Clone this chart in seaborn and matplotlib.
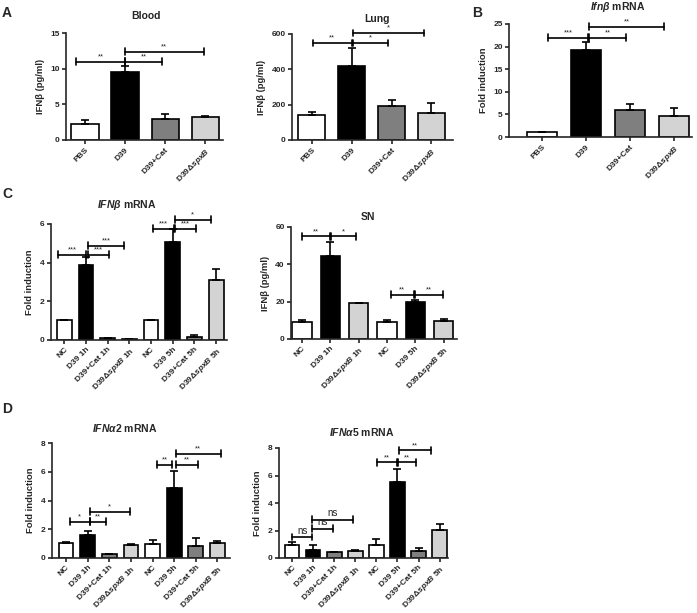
import numpy as np
import pandas as pd
import seaborn as sns
import matplotlib.pyplot as plt

# ---------------------------------------------------------------------------
# data
# ---------------------------------------------------------------------------
four_labels = ['PBS', 'D39', 'D39+Cat', r'D39$\Delta\mathit{spxB}$']
time_labels = ['NC', 'D39 1h', 'D39+Cat 1h', r'D39$\Delta\mathit{spxB}$ 1h',
               'NC', 'D39 5h', 'D39+Cat 5h', r'D39$\Delta\mathit{spxB}$ 5h']
sn_labels = ['NC', 'D39 1h', r'D39$\Delta\mathit{spxB}$ 1h',
             'NC', 'D39 5h', r'D39$\Delta\mathit{spxB}$ 5h']

blood_means = [2.2, 9.5, 2.9, 3.2]
blood_tops = [2.8, 10.4, 3.7, 3.4]
blood_sig = [(-0.21, 1.0, 11.0, '**'), (1.0, 1.93, 11.0, '**'), (1.0, 2.96, 12.4, '**')]

lung_means = [140, 420, 193, 155]
lung_tops = [157, 521, 227, 210]
lung_sig = [(0.02, 1.0, 549, '**'), (1.04, 1.9, 549, '*'), (1.04, 2.81, 606, '*')]

ifnb_means = [1.0, 19.3, 6.0, 4.7]
ifnb_tops = [1.1, 21.1, 7.3, 6.5]
ifnb_sig = [(0.13, 1.05, 22.0, '***'), (1.07, 1.9, 22.0, '**'), (1.07, 2.76, 24.4, '**')]

c_mrna_means = [1.02, 3.86, 0.10, 0.04, 1.02, 5.07, 0.14, 3.1]
c_mrna_tops = [1.05, 4.29, 0.12, 0.05, 1.05, 5.75, 0.26, 3.65]
c_mrna_sig = [(-0.29, 1.0, 4.41, '***'), (1.09, 2.05, 4.41, '***'), (1.09, 2.75, 4.88, '***'),
              (4.08, 5.05, 5.76, '***'), (5.09, 6.05, 5.76, '***'), (5.09, 6.74, 6.21, '*')]

sn_means = [9.2, 44.5, 19.2, 9.2, 19.8, 9.7]
sn_tops = [10.3, 52.1, 19.5, 10.3, 20.8, 10.5]
sn_sig = [(0.0, 0.98, 55.0, '**'), (1.02, 1.92, 55.0, '*'),
          (3.14, 3.94, 23.8, '**'), (3.97, 4.96, 23.8, '**')]

a2_means = [1.05, 1.6, 0.25, 0.9, 1.0, 4.9, 0.85, 1.05]
a2_tops = [1.12, 1.85, 0.3, 1.0, 1.25, 6.04, 1.4, 1.2]
a2_sig = [(0.17, 1.09, 2.53, '*'), (1.09, 1.86, 2.53, '**'), (1.09, 2.94, 3.22, '*'),
          (4.2, 4.92, 6.5, '**'), (5.08, 6.08, 6.5, '**'), (5.08, 7.15, 7.26, '**')]

a5_means = [0.97, 0.6, 0.41, 0.5, 0.95, 5.53, 0.48, 2.06]
a5_tops = [1.2, 0.95, 0.46, 0.56, 1.36, 6.5, 0.73, 2.5]
a5_sig = [(0.0, 0.95, 1.53, 'ns'), (0.95, 1.95, 2.13, 'ns'), (0.95, 2.9, 2.79, 'ns'),
          (4.02, 4.97, 6.96, '**'), (5.02, 5.87, 6.96, '**'), (5.05, 6.6, 7.83, '**')]

WH, BK, DG, LG = 'white', 'black', '#7f7f7f', '#d3d3d3'
four_colors = [WH, BK, DG, LG]
time_colors = [WH, BK, DG, LG, WH, BK, DG, LG]
sn_colors = [WH, BK, LG, WH, BK, LG]

# ---------------------------------------------------------------------------
sns.set_style('ticks')
plt.rcParams['font.family'] = ['Liberation Sans', 'DejaVu Sans']
plt.rcParams['font.weight'] = 'bold'
plt.rcParams['mathtext.fontset'] = 'custom'
plt.rcParams['mathtext.rm'] = 'Liberation Sans:bold'
plt.rcParams['mathtext.it'] = 'Liberation Sans:italic:bold'
plt.rcParams['mathtext.bf'] = 'Liberation Sans:bold'

W, H = 697, 613
fig = plt.figure(figsize=(W / 100, H / 100), dpi=100)


def px_rect(l, t, r, b):
    return [l / W, 1 - b / H, (r - l) / W, (b - t) / H]


def panel(rect, labels, means, tops, colors, sig, ylim, yticks, xlim, ylabel):
    ax = fig.add_axes(px_rect(*rect))
    keys = [str(i) for i in range(len(means))]
    df = pd.DataFrame({'key': keys, 'value': means})
    sns.barplot(data=df, x='key', y='value', hue='key',
                palette=dict(zip(keys, colors)), edgecolor='black',
                linewidth=1.2, width=0.68, legend=False, errorbar=None, ax=ax)
    pos = np.arange(len(means))
    up = np.array(tops) - np.array(means)
    ax.errorbar(pos, means, yerr=[np.zeros(len(means)), up], fmt='none',
                ecolor='black', elinewidth=1.2, capsize=3, capthick=1.2)
    # significance brackets
    d = 0.03 * ylim[1]
    for x1, x2, y, lab in sig:
        kw = dict(color='black', lw=1.2, clip_on=False)
        ax.plot([x1, x2], [y, y], **kw)
        ax.plot([x1, x1], [y - d, y + d], **kw)
        ax.plot([x2, x2], [y - d, y + d], **kw)
        ax.text((x1 + x2) / 2, y + d * 0.4, lab, ha='center', va='bottom',
                fontsize=5.5 if lab != 'ns' else 7, fontweight='normal',
                color='#222222')
    ax.set_xlim(xlim)
    ax.set_ylim(ylim)
    ax.set_yticks(yticks)
    ax.set_xticks(pos)
    ax.set_xticklabels(labels, rotation=45, ha='right', rotation_mode='anchor',
                       fontsize=6, fontweight='bold')
    ax.set_xlabel('')
    ax.set_ylabel(ylabel, fontsize=6.8, fontweight='bold')
    sns.despine(ax=ax)
    for s in ['left', 'bottom']:
        ax.spines[s].set_linewidth(1.2)
    ax.tick_params(width=1.2, length=3, labelsize=6, pad=1.5)
    return ax


def title(x, y, text, size=7.5):
    fig.text(x / W, 1 - y / H, text, ha='center', va='center',
             fontsize=size, fontweight='bold')


def letter(x, y, text):
    fig.text(x / W, 1 - y / H, text, ha='left', va='top',
             fontsize=10, fontweight='bold')


panel((66, 33, 223, 140), four_labels, blood_means, blood_tops, four_colors,
      blood_sig, (0, 15), [0, 5, 10, 15], (-0.47, 3.44), 'IFNβ (pg/ml)')
panel((292, 34, 453, 140), four_labels, lung_means, lung_tops, four_colors,
      lung_sig, (0, 600), [0, 200, 400, 600], (-0.5, 3.54), 'IFNβ (pg/ml)')
panel((509, 24, 692, 137), four_labels, ifnb_means, ifnb_tops, four_colors,
      ifnb_sig, (0, 25), [0, 5, 10, 15, 20, 25], (-0.75, 3.4), 'Fold induction')
panel((51, 224, 227, 340), time_labels, c_mrna_means, c_mrna_tops, time_colors,
      c_mrna_sig, (0, 6), [0, 2, 4, 6], (-0.61, 7.5), 'Fold induction')
panel((291, 227, 457, 339), sn_labels, sn_means, sn_tops, sn_colors,
      sn_sig, (0, 60), [0, 20, 40, 60], (-0.39, 5.47), 'IFNβ (pg/ml)')
panel((52, 443, 230, 558), time_labels, a2_means, a2_tops, time_colors,
      a2_sig, (0, 8), [0, 2, 4, 6, 8], (-0.65, 7.58), 'Fold induction')
panel((279, 448, 448, 558), time_labels, a5_means, a5_tops, time_colors,
      a5_sig, (0, 8), [0, 2, 4, 6, 8], (-0.63, 7.4), 'Fold induction')

title(146, 16, 'Blood')
title(377, 19, 'Lung')
title(618, 7, r'$\mathit{Ifn\beta}$ mRNA')
title(127, 205, r'$\mathit{IFN\beta}$ mRNA')
title(368, 217, 'SN')
title(125, 428, r'$\mathit{IFN\alpha 2}$ mRNA')
title(362, 432, r'$\mathit{IFN\alpha 5}$ mRNA')

letter(2, 6, 'A')
letter(472, 6, 'B')
letter(2, 187, 'C')
letter(2, 402, 'D')

fig.savefig('out.png', dpi=100)
